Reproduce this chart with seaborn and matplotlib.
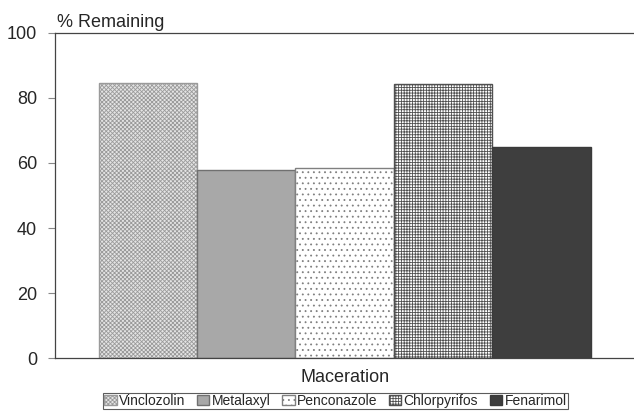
import pandas as pd
import matplotlib
matplotlib.use('Agg')
import matplotlib.pyplot as plt
import seaborn as sns

# data
pesticides = ['Vinclozolin', 'Metalaxyl', 'Penconazole', 'Chlorpyrifos', 'Fenarimol']
remaining = [84.5, 57.9, 58.6, 84.2, 65.0]
group = ['Maceration'] * len(pesticides)

df = pd.DataFrame({'Group': group, 'Pesticide': pesticides, 'Remaining': remaining})

sns.set_style('white')
plt.rcParams['font.family'] = ['Liberation Sans', 'DejaVu Sans']
plt.rcParams['hatch.linewidth'] = 0.6

fig = plt.figure(figsize=(6.34, 4.12), dpi=100)
ax = fig.add_axes([0.087, 0.131, 0.913, 0.789])

sns.barplot(data=df, x='Group', y='Remaining', hue='Pesticide', hue_order=pesticides,
            width=0.85, gap=0, legend=False, ax=ax, saturation=1)

faces = ['#e4e4e4', '#a8a8a8', '#ffffff', '#ffffff', '#3e3e3e']
hatches = ['xxxxxxxx', None, '...', '++++++', None]
hatch_cols = ['#9a9a9a', None, '#808080', '#505050', None]
edges = ['#6a6a6a', '#707070', '#8a8a8a', '#555555', '#3a3a3a']

for cont, fc, h, hc, ec in zip(ax.containers, faces, hatches, hatch_cols, edges):
    for p in cont.patches:
        p.set_facecolor(fc)
        p.set_linewidth(1.0)
        if h:
            p.set_hatch(h)
            if hasattr(p, 'set_hatchcolor'):
                p.set_hatchcolor(hc)
                p.set_edgecolor(ec)
            else:
                p.set_edgecolor(hc)
        else:
            p.set_edgecolor(ec)

ax.set_ylim(0, 100)
ax.set_yticks([0, 20, 40, 60, 80, 100])
ax.tick_params(axis='y', labelsize=13, length=5, width=0.8, color='#888888', direction='out', left=True, pad=8)
ax.tick_params(axis='x', bottom=False, labelbottom=False)
ax.set_ylabel('')
ax.set_xlabel('Maceration', fontsize=13, labelpad=8)

for s in ['left', 'bottom', 'top']:
    ax.spines[s].set_color('#444444')
    ax.spines[s].set_linewidth(0.9)
ax.spines['right'].set_visible(False)

ax.text(0.003, 1.006, '% Remaining', transform=ax.transAxes, fontsize=13, ha='left', va='bottom')

handles = [c.patches[0] for c in ax.containers]
leg = ax.legend(handles, pesticides, ncol=5, loc='lower center', bbox_to_anchor=(0.484, -0.158),
                fontsize=10, frameon=True, fancybox=False, edgecolor='#333333',
                handlelength=0.9, handleheight=0.7, handletextpad=0.15, columnspacing=0.85,
                borderpad=0.1, borderaxespad=0)
leg.get_frame().set_linewidth(0.8)

plt.savefig('out.png', dpi=100)
